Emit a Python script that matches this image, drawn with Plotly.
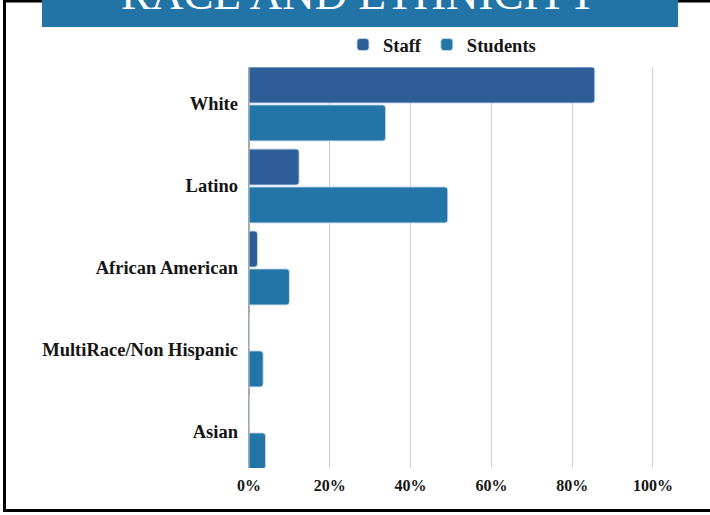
import plotly.graph_objects as go

categories = ["White", "Latino", "African American", "MultiRace/Non Hispanic", "Asian"]
staff = [85.6, 12.4, 2.1, 0.0, 0.0]
students = [33.8, 49.2, 10.0, 3.5, 4.1]
series_names = ["Staff", "Students"]
x_ticks = [0, 20, 40, 60, 80, 100]
x_tick_labels = ["0%", "20%", "40%", "60%", "80%", "100%"]
title_text = "RACE AND ETHNICITY"

W, H = 710, 515
L = 249
T = 67
plot_right = 653
plot_bottom = 468
pw = (plot_right - L) * 100.5 / 100
R = W - L - pw
B = H - plot_bottom
ph = plot_bottom - T


def px_x(x):
    return (x - L) / pw


def px_y(y):
    return (plot_bottom - y) / ph


STAFF_C = "#2e5e98"
STUD_C = "#2374a7"
FONT = "Liberation Serif, Times New Roman, serif"

fig = go.Figure()
fig.add_trace(go.Bar(
    y=categories, x=staff, name=series_names[0], orientation="h",
    marker=dict(color=STAFF_C, line=dict(color="rgba(200,220,235,0.9)", width=1)),
))
fig.add_trace(go.Bar(
    y=categories, x=students, name=series_names[1], orientation="h",
    marker=dict(color=STUD_C, line=dict(color="rgba(200,220,235,0.9)", width=1)),
))

fig.update_layout(
    width=W, height=H,
    margin=dict(l=L, r=R, t=T, b=B, pad=0),
    paper_bgcolor="white", plot_bgcolor="white",
    barmode="group", bargap=0.076, bargroupgap=0.05,
    barcornerradius=3,
    font=dict(family=FONT, color="#151515"),
    showlegend=True,
    legend=dict(
        orientation="h", x=px_x(442), xanchor="center", y=px_y(45), yanchor="middle",
        font=dict(family=FONT, size=18.5, color="#151515", weight="bold"),
        itemwidth=30, bgcolor="rgba(0,0,0,0)", traceorder="normal",
    ),
    xaxis=dict(
        range=[0, 100.5], tickvals=x_ticks, ticktext=x_tick_labels,
        showgrid=True, gridcolor="#d0d0d0", gridwidth=1,
        zeroline=True, zerolinecolor="#a8a8a8", zerolinewidth=1.5,
        showline=False, ticks="", ticklabelstandoff=6,
        tickfont=dict(family=FONT, size=16, color="#151515", weight="bold"),
        fixedrange=True,
    ),
    yaxis=dict(
        categoryorder="array", categoryarray=categories,
        range=[4.439, -0.451], showgrid=False, zeroline=False, showline=False,
        ticks="", ticklabelstandoff=10,
        tickfont=dict(family=FONT, size=18.5, color="#151515", weight="bold"),
        fixedrange=True,
    ),
    shapes=[
        dict(type="rect", xref="paper", yref="paper",
             x0=px_x(4.5), x1=px_x(730), y0=px_y(510.5), y1=px_y(1),
             line=dict(color="black", width=3), fillcolor="rgba(0,0,0,0)", layer="above"),
        dict(type="rect", xref="paper", yref="paper",
             x0=px_x(42), x1=px_x(678), y0=px_y(27), y1=px_y(-20),
             line=dict(width=0), fillcolor="#2274a6", layer="above"),
    ],
    annotations=[
        dict(text=title_text, xref="paper", yref="paper", x=px_x(360), y=px_y(20.7),
             xanchor="center", yanchor="bottom", showarrow=False,
             font=dict(family=FONT, size=45, color="white")),
    ],
)

fig.write_html(
    "out.html",
    config={"displayModeBar": False, "staticPlot": True},
    post_script="document.body.style.margin='0px';document.body.style.overflow='hidden';",
)
